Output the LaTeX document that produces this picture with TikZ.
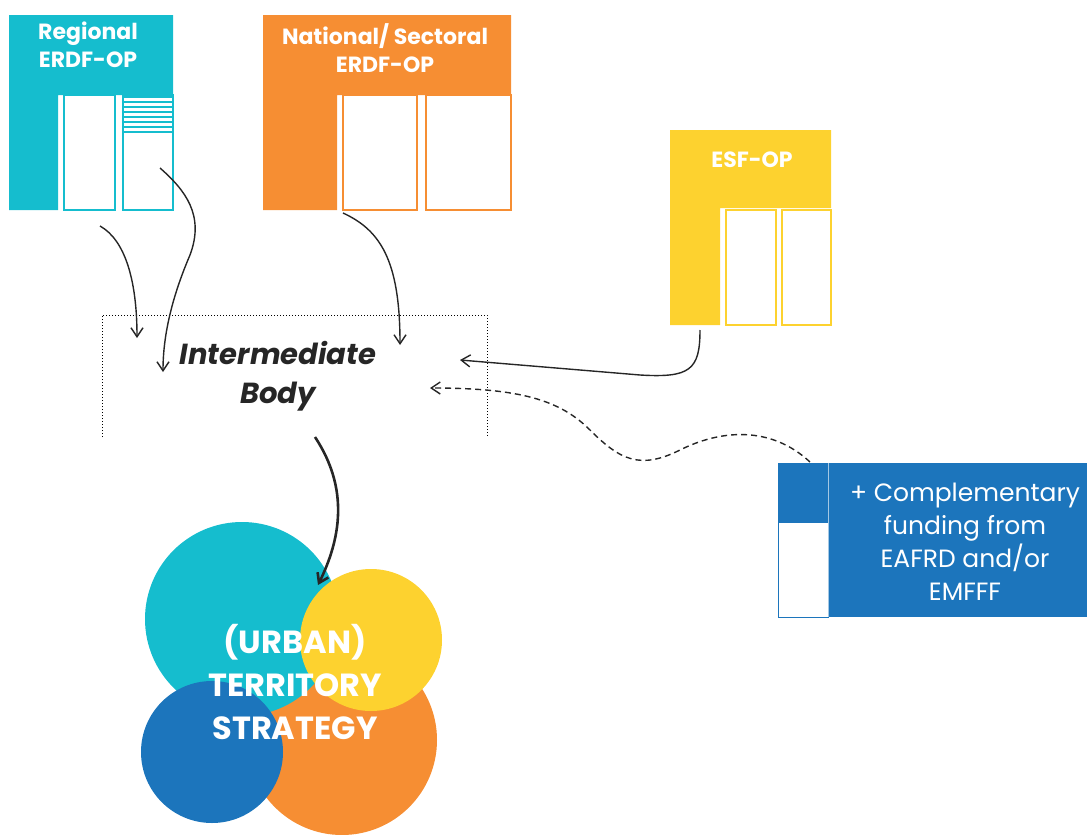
\documentclass[tikz,border=0pt]{standalone}
\usepackage{fontspec}
\setmainfont{Poppins}
\usetikzlibrary{arrows.meta}

\definecolor{opteal}{HTML}{15BDCE}
\definecolor{oporange}{HTML}{F68E33}
\definecolor{opyellow}{HTML}{FDD22F}
\definecolor{opblue}{HTML}{1C75BC}

\tikzset{
	optitle/.style = {text = white, align = center, font = \fontsize{22}{28}\selectfont\bfseries},
	slot/.style = {draw = #1, line width = 1.5pt, fill = white},
	flow/.style = {->, line width = 1.4pt, black!85},
}

\begin{document}
\begin{tikzpicture}[x = 1pt, y = -1pt, > = {Straight Barb[length = 9pt, width = 12pt]}]
	\useasboundingbox (0, 0) rectangle (1087, 835);
	
	%	regional erdf-op
	\fill[opteal] (9, 15) -- (173, 15) -- (173, 95) -- (58, 95) -- (58, 210) -- (9, 210) -- cycle;
	\node[optitle] (regional) at (88, 45) {Regional\\ERDF-OP};
	\draw[slot = opteal] (64, 95) rectangle (115, 210);
	\draw[slot = opteal] (123, 95) rectangle (173, 210);
	\foreach \y in {97, 102, ..., 132}
		\draw[opteal, line width = 1.2pt] (123, \y) -- (173, \y);
	
	%	national erdf-op
	\fill[oporange] (263, 15) -- (511, 15) -- (511, 95) -- (337, 95) -- (337, 210) -- (263, 210) -- cycle;
	\node[optitle] (national) at (385, 48) {National/ Sectoral\\ERDF-OP};
	\draw[slot = oporange] (343, 95) rectangle (417, 210);
	\draw[slot = oporange] (426, 95) rectangle (511, 210);
	
	%	esf-op
	\fill[opyellow] (670, 130) -- (831, 130) -- (831, 208) -- (720, 208) -- (720, 325) -- (670, 325) -- cycle;
	\node[optitle] (esf) at (752, 160) {ESF-OP};
	\draw[slot = opyellow] (726, 210) rectangle (776, 325);
	\draw[slot = opyellow] (782, 210) rectangle (831, 325);
	
	%	complementary funding
	\fill[opblue] (778, 463) rectangle (1087, 617);
	\draw[draw = opblue, fill = white, line width = 1pt] (778, 522) rectangle (828, 617);
	\draw[opblue!40, line width = 0.6pt] (828, 463) -- (828, 617);
	\node[text = white, align = center, font = \fontsize{25}{33}\selectfont] (compl) at (965, 542)
		{+ Complementary\\funding from\\EAFRD and/or\\EMFFF};
	
	%	intermediate body
	\draw[dotted, line width = 1pt] (102, 437) -- (102, 315) -- (487, 315) -- (487, 437);
	\node[align = center, font = \fontsize{29}{39}\selectfont\bfseries\itshape, black!85] (ib) at (278, 376)
		{Intermediate\\Body};
	
	%	strategy
	\fill[oporange] (342, 740) circle (95);
	\fill[opteal] (242, 619) circle (97);
	\fill[opyellow] (371, 640) circle (71);
	\fill[opblue] (212, 752) circle (71);
	\node[text = white, align = center, font = \fontsize{32}{43}\selectfont\bfseries] (strategy) at (295, 682)
		{(URBAN)\\TERRITORY\\STRATEGY};
	
	%	arrows
	\coordinate (reg-a) at (100, 226);
	\coordinate (reg-b) at (160, 168);
	\coordinate (nat-a) at (343, 213);
	\coordinate (esf-a) at (700, 330);
	\coordinate (compl-a) at (810, 462);
	\coordinate (ib-a) at (137, 338);
	\coordinate (ib-b) at (163, 372);
	\coordinate (ib-c) at (400, 345);
	\coordinate (ib-d) at (460, 360);
	\coordinate (ib-e) at (430, 388);
	\coordinate (ib-out) at (315, 437);
	\coordinate (strategy-in) at (318, 585);
	
	\draw[flow] (reg-a) .. controls (125, 240) and (137, 280) .. (ib-a);
	\draw[flow] (reg-b) .. controls (185, 190) and (205, 215) .. (190, 255) .. controls (175, 290) and (163, 330) .. (ib-b);
	\draw[flow] (nat-a) .. controls (380, 230) and (400, 260) .. (ib-c);
	\draw[flow] (esf-a) .. controls (700, 370) and (690, 378) .. (640, 375) -- (ib-d);
	\draw[flow, dash pattern = on 6pt off 4pt] (compl-a) .. controls (770, 425) and (720, 430) .. (680, 450) .. controls (640, 470) and (620, 460) .. (590, 430) .. controls (560, 400) and (520, 388) .. (ib-e);
	\draw[flow, line width = 2.6pt] (ib-out) .. controls (350, 490) and (340, 540) .. (strategy-in);
\end{tikzpicture}
\end{document}
